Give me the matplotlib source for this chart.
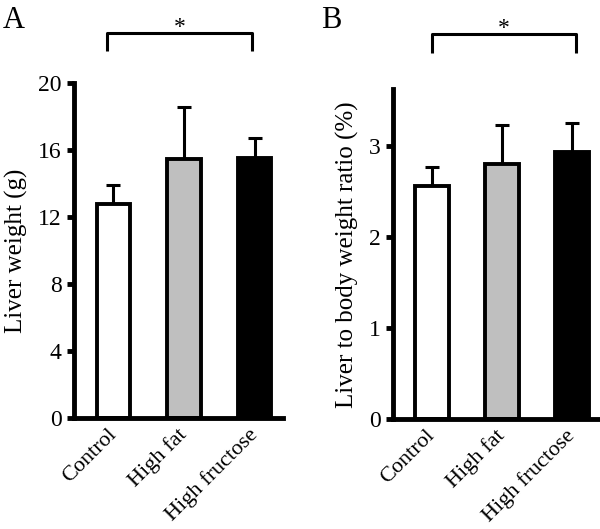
import matplotlib
matplotlib.use("Agg")
import matplotlib.pyplot as plt


GROUPS = ["Control", "High fat", "High fructose"]
LIVER_WEIGHT = [12.77, 15.49, 15.52]
LIVER_WEIGHT_SD = [1.17, 3.09, 1.21]
RATIO = [2.57, 2.81, 2.94]
RATIO_SD = [0.20, 0.43, 0.32]
WEIGHT_TICKS = [0, 4, 8, 12, 16, 20]
RATIO_TICKS = [0, 1, 2, 3]
SIG_PAIR = (0, 2)
SIG_TEXT = "*"

BAR_COLORS = ["white", "#bfbfbf", "black"]


def bar_panel(ax, values, errors, ylabel, yticks, ymax, bracket_y, leg_y,
              bracket_shift):
    x = list(range(len(GROUPS)))
    ax.errorbar(x, values, yerr=[[0] * len(errors), errors], fmt="none",
                ecolor="black", elinewidth=2.2, capsize=4.7, capthick=2.2,
                zorder=1)
    ax.bar(x, values, width=0.48, color=BAR_COLORS, edgecolor="black",
           linewidth=2.8, zorder=2)

    ax.set_xlim(-0.56, 2.4)
    ax.set_ylim(0, ymax)
    ax.set_yticks(yticks)
    ax.set_xticks(x)
    ax.set_xticklabels(GROUPS, rotation=45, ha="right", va="center",
                       rotation_mode="anchor", fontsize=16)
    ax.tick_params(axis="x", length=0, pad=10)
    ax.tick_params(axis="y", direction="out", length=5, width=3.5,
                   labelsize=17, pad=4)
    ax.set_ylabel(ylabel, fontsize=18, labelpad=7)

    for side in ["top", "right"]:
        ax.spines[side].set_visible(False)
    for side in ["left", "bottom"]:
        ax.spines[side].set_linewidth(3.5)

    # significance bracket above the panel
    a, b = SIG_PAIR
    left, right = a + bracket_shift[0], b + bracket_shift[1]
    ax.plot([left, left, right, right],
            [leg_y, bracket_y, bracket_y, leg_y], color="black",
            linewidth=2.2, clip_on=False, solid_capstyle="butt")
    ax.annotate(SIG_TEXT, xy=((left + right) / 2, bracket_y), xytext=(0, 0),
                textcoords="offset points", ha="center", va="baseline",
                fontsize=17, annotation_clip=False)


def main():
    plt.rcParams["font.family"] = ["Liberation Serif", "DejaVu Serif"]
    fig = plt.figure(figsize=(6.0, 5.29), dpi=100)

    ax_a = fig.add_axes([0.1233, 0.2098, 0.348, 0.633])
    bar_panel(ax_a, LIVER_WEIGHT, LIVER_WEIGHT_SD, "Liver weight (g)",
              WEIGHT_TICKS, 20, 23.0, 21.94, (-0.09, -0.04))

    ax_b = fig.add_axes([0.655, 0.2074, 0.345, 0.624])
    bar_panel(ax_b, RATIO, RATIO_SD, "Liver to body weight ratio (%)",
              RATIO_TICKS, 3.63, 4.24, 4.03, (0.0, 0.06))

    fig.text(0.005, 0.962, "A", fontsize=22, ha="left", va="center")
    fig.text(0.535, 0.962, "B", fontsize=22, ha="left", va="center")

    fig.savefig("out.png", dpi=100)


if __name__ == '__main__':
    main()
